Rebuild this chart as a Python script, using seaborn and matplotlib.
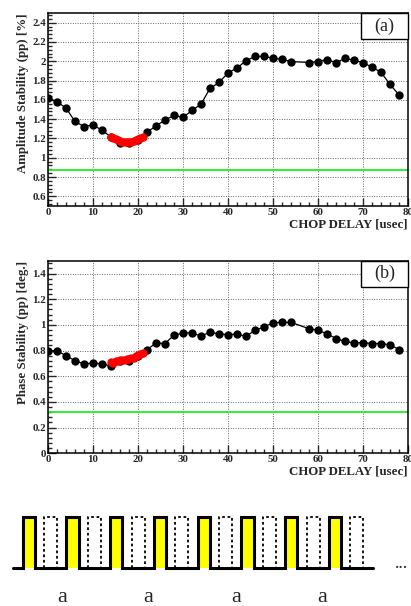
import matplotlib
matplotlib.use("Agg")
import matplotlib.pyplot as plt
import seaborn as sns
import pandas as pd
from matplotlib.ticker import MultipleLocator, AutoMinorLocator, FuncFormatter
from matplotlib.patches import Rectangle

# ---------------- data ----------------
delay = [0, 2, 4, 6, 8, 10, 12, 14, 16, 18, 20, 22, 24, 26, 28, 30, 32, 34, 36, 38,
         40, 42, 44, 46, 48, 50, 52, 54, 58, 60, 62, 64, 66, 68, 70, 72, 74, 76, 78]
amplitude = [1.62, 1.58, 1.515, 1.376, 1.323, 1.34, 1.285, 1.215, 1.15, 1.15, 1.18,
             1.264, 1.33, 1.39, 1.44, 1.418, 1.49, 1.556, 1.718, 1.78, 1.879, 1.93,
             2.005, 2.05, 2.05, 2.032, 2.022, 1.997, 1.987, 1.997, 2.018, 1.984, 2.032,
             2.008, 1.987, 1.938, 1.886, 1.76, 1.651]
phase = [0.798, 0.8, 0.759, 0.722, 0.696, 0.704, 0.696, 0.68, 0.715, 0.72, 0.76,
         0.806, 0.86, 0.855, 0.92, 0.936, 0.94, 0.91, 0.946, 0.928, 0.925, 0.928,
         0.912, 0.957, 0.985, 1.017, 1.02, 1.02, 0.97, 0.959, 0.93, 0.894, 0.871,
         0.86, 0.862, 0.855, 0.855, 0.845, 0.808]

fine_delay = [14, 14.5, 15, 15.5, 16, 16.5, 17, 17.5, 18, 18.5, 19, 19.5, 20, 20.5, 21]
fine_amplitude = [1.215, 1.20, 1.19, 1.18, 1.17, 1.165, 1.16, 1.16, 1.16, 1.165,
                  1.17, 1.18, 1.19, 1.205, 1.22]
fine_phase = [0.71, 0.705, 0.715, 0.72, 0.725, 0.725, 0.73, 0.735, 0.735, 0.74,
              0.745, 0.755, 0.765, 0.775, 0.785]

amp_spec = 0.87
phase_spec = 0.323

panel_tags = ["(a)", "(b)"]
ylabels = ["Amplitude Stability (pp) [%]", "Phase Stability (pp) [deg.]"]
xlabel = "CHOP DELAY [usec]"
group_labels = ["a", "a", "a", "a"]
n_pulses = 8

# ---------------- style ----------------
sns.set_style("white")
plt.rcParams["font.family"] = ["Liberation Serif", "DejaVu Serif"]

W, H = 411, 606
fig = plt.figure(figsize=(W / 100, H / 100), dpi=100)

def px_axes(x0, y0, x1, y1):
    return fig.add_axes([x0 / W, 1 - y1 / H, (x1 - x0) / W, (y1 - y0) / H])

ax_a = px_axes(48, 13, 408, 206)
ax_b = px_axes(48, 260.7, 408, 453.3)

df_a = pd.DataFrame({"delay": delay, "value": amplitude})
df_b = pd.DataFrame({"delay": delay, "value": phase})
fine_a = pd.DataFrame({"delay": fine_delay, "value": fine_amplitude})
fine_b = pd.DataFrame({"delay": fine_delay, "value": fine_phase})

fmt = FuncFormatter(lambda v, p: "%g" % round(v, 3))

for ax, df, fine, spec, ylim, tag, ylab in [
    (ax_a, df_a, fine_a, amp_spec, (0.5, 2.5), panel_tags[0], ylabels[0]),
    (ax_b, df_b, fine_b, phase_spec, (0.0, 1.5), panel_tags[1], ylabels[1]),
]:
    ax.axhline(spec, color="#22ee22", lw=1.3, zorder=2)
    sns.lineplot(data=df, x="delay", y="value", ax=ax, color="black", lw=0.9,
                 marker="o", markersize=6.0, markeredgewidth=0, zorder=3)
    sns.scatterplot(data=fine, x="delay", y="value", ax=ax, color="red", s=36,
                    linewidth=0, zorder=4)
    ax.set_xlim(0, 80)
    ax.set_ylim(*ylim)
    ax.xaxis.set_major_locator(MultipleLocator(10))
    ax.xaxis.set_minor_locator(AutoMinorLocator(5))
    ax.yaxis.set_major_locator(MultipleLocator(0.2))
    ax.yaxis.set_minor_locator(AutoMinorLocator(5))
    ax.xaxis.set_major_formatter(fmt)
    ax.yaxis.set_major_formatter(fmt)
    ax.grid(True, which="major", color="#666666", linestyle=(0, (1, 1.5)), lw=0.7)
    ax.tick_params(which="both", direction="in", top=False, right=False,
                   left=True, bottom=True, labelsize=7.8, pad=1.5, width=1.0)
    ax.tick_params(which="major", length=6)
    ax.tick_params(which="minor", length=3)
    for lbl in ax.get_xticklabels() + ax.get_yticklabels():
        lbl.set_fontweight("bold")
    for s in ax.spines.values():
        s.set_visible(True)
        s.set_color("black")
        s.set_linewidth(1.1)
    ax.set_xlabel(xlabel, loc="right", fontsize=9.3, fontweight="bold", labelpad=1)
    ax.set_ylabel(ylab, loc="top", fontsize=9.3, fontweight="bold", labelpad=2)
    # tag box
    bw, bh = 47 / 360, 26 / 193
    ax.add_patch(Rectangle((1 - bw, 1 - bh), bw, bh, transform=ax.transAxes,
                           facecolor="white", edgecolor="black", lw=1.0,
                           zorder=10, clip_on=False))
    ax.text(1 - bw / 2, 1 - bh / 2, tag, transform=ax.transAxes, ha="center",
            va="center", fontsize=13, zorder=11)

# ---------------- pulse schematic ----------------
ax_s = px_axes(0, 476, 411, 606)
ax_s.set_xlim(0, W)
ax_s.set_ylim(606, 476)
ax_s.axis("off")

base_y, top_y = 568, 516.7
start, period, width = 22.7, 43.7, 12.3
xs, ys = [13.3], [base_y]
for k in range(n_pulses):
    x0 = start + k * period
    x1 = x0 + width
    ax_s.add_patch(Rectangle((x0, top_y), width, base_y - top_y, facecolor="#ffff00",
                             edgecolor="none", zorder=1))
    xs += [x0, x0, x1, x1]
    ys += [base_y, top_y, top_y, base_y]
    d0 = x0 + 21.6
    d1 = d0 + 13
    ax_s.plot([d0, d0, d1, d1], [base_y, top_y, top_y, base_y], color="black",
              lw=1.3, linestyle=(0, (1.5, 1.5)), zorder=2)
xs.append(372.7)
ys.append(base_y)
ax_s.plot(xs, ys, color="black", lw=2.2, zorder=3, solid_joinstyle="miter")
ax_s.text(401, 563, "...", ha="center", va="center", fontsize=13)
for xc, lab in zip([61.7, 148.3, 235.7, 322.3], group_labels):
    ax_s.text(xc, 597, lab, ha="center", va="center", fontsize=16)

fig.savefig("out.png", dpi=100)
